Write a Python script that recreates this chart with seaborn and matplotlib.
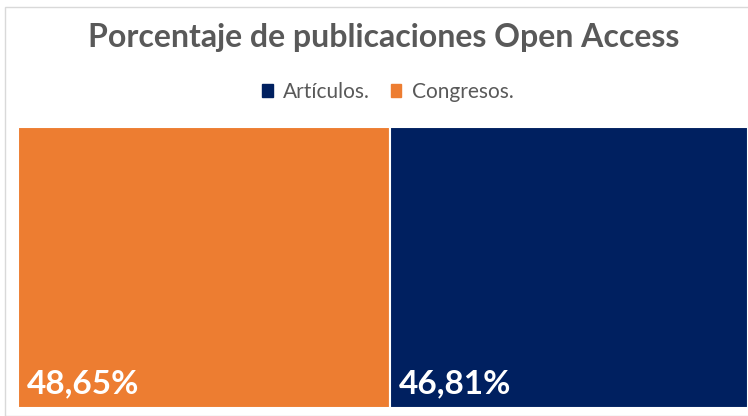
import numpy as np
import seaborn as sns
from matplotlib import pyplot as plt
from matplotlib.patches import Rectangle, Patch

# data
categories = ["Congresos.", "Artículos."]
values = [48.65, 46.81]
labels = ["48,65%", "46,81%"]
legend_order = ["Artículos.", "Congresos."]
colors = {"Congresos.": "#ED7D31", "Artículos.": "#002060"}

sns.set_theme(style="white")
plt.rcParams['font.family'] = ['Lato', 'DejaVu Sans']

fig = plt.figure(figsize=(7.48, 4.16), dpi=100)
W, H = 748, 416

# light frame round the chart area
fig.patches.append(Rectangle((5 / W, 0), 1, (H - 7) / H, transform=fig.transFigure,
                             fill=False, edgecolor="#D9D9D9", linewidth=1))

ax = fig.add_axes([18 / W, (H - 408) / H, (748 - 18) / W, (408 - 127) / H])

# treemap-like layout: width of each block follows its value
total = float(np.sum(values))
lefts = np.concatenate([[0], np.cumsum(values)[:-1]])
for cat, left, val, lab in zip(categories, lefts, values, labels):
    ax.bar(left, 1, width=val, align='edge', color=colors[cat],
           edgecolor="white", linewidth=1.5)
    ax.text(left + total * 0.012, 0.035, lab, color="white", fontsize=24,
            fontweight="bold", ha="left", va="bottom")

ax.set_xlim(0, total)
ax.set_ylim(0, 1)
ax.axis("off")

fig.text(384 / W, 1 - 38 / H, "Porcentaje de publicaciones Open Access",
         ha="center", va="center", fontsize=23, fontweight="bold", color="#595959")

handles = [Patch(facecolor=colors[c], edgecolor=colors[c], label=c) for c in legend_order]
fig.legend(handles=handles, loc="center", bbox_to_anchor=(388 / W, 1 - 92 / H), ncol=2,
           frameon=False, fontsize=15, labelcolor="#595959", handlelength=0.5,
           handleheight=0.6, handletextpad=0.5, columnspacing=1.0)

fig.savefig("out.png", dpi=100)
